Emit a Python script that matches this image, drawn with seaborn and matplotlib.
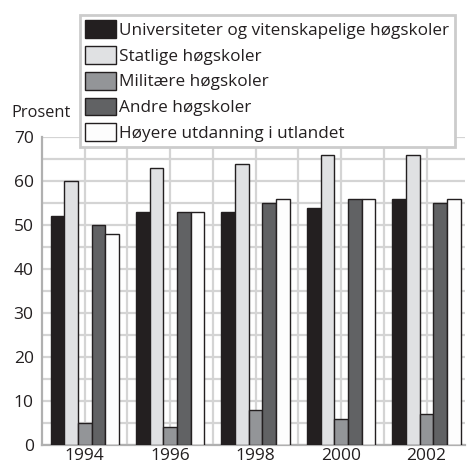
import pandas as pd
import matplotlib.pyplot as plt
import seaborn as sns
from matplotlib.patches import Patch
from matplotlib.ticker import MultipleLocator

# --- data ---
years = ['1994', '1996', '1998', '2000', '2002']
groups = ['Universiteter og vitenskapelige høgskoler', 'Statlige høgskoler',
          'Militære høgskoler', 'Andre høgskoler', 'Høyere utdanning i utlandet']
universiteter = [52, 53, 53, 54, 56]
statlige = [60, 63, 64, 66, 66]
militaere = [5, 4, 8, 6, 7]
andre = [50, 53, 55, 56, 55]
utlandet = [48, 53, 56, 56, 56]
colors = ['#231f20', '#e0e1e3', '#939598', '#616264', '#fdfdfd']

rows = []
for g, vals in zip(groups, [universiteter, statlige, militaere, andre, utlandet]):
    for y, v in zip(years, vals):
        rows.append({'År': y, 'Gruppe': g, 'Prosent': v})
df = pd.DataFrame(rows)

sns.set_style('white')
plt.rcParams['font.family'] = ['Open Sans', 'DejaVu Sans']
plt.rcParams['text.color'] = '#231f20'

fig = plt.figure(figsize=(4.68, 4.65), dpi=100)
ax = fig.add_axes([0.0897, 0.043, 0.904, 0.662])

sns.barplot(data=df, x='År', y='Prosent', hue='Gruppe', hue_order=groups,
            palette=colors, width=0.8, edgecolor='#231f20', linewidth=1,
            saturation=1, legend=False, ax=ax, zorder=3)

ax.set_ylim(0, 70)
ax.set_xlim(-0.5, 4.45)
ax.yaxis.set_major_locator(MultipleLocator(10))
ax.yaxis.set_minor_locator(MultipleLocator(5))
ax.set_xticks(range(len(years)))
ax.set_xticks([0.5, 1.5, 2.5, 3.5], minor=True)
ax.grid(which='both', color='#d4d4d4', linewidth=1.6, zorder=0)
ax.set_axisbelow(True)
ax.tick_params(which='both', length=0, labelsize=12.5, colors='#231f20', pad=2)
ax.tick_params(axis='y', pad=6)
ax.set_xlabel('')
ax.set_ylabel('')
for s in ['top', 'right']:
    ax.spines[s].set_visible(False)
for s in ['left', 'bottom']:
    ax.spines[s].set_color('#b0b0b0')
    ax.spines[s].set_linewidth(1.6)

fig.text(0.024, 0.757, 'Prosent', fontsize=11.8, va='center', ha='left')

handles = [Patch(facecolor=c, edgecolor='#231f20', linewidth=1) for c in colors]
leg = fig.legend(handles, groups, loc='upper left', bbox_to_anchor=(0.171, 0.968),
                 fontsize=12.3, frameon=True, fancybox=False, framealpha=1,
                 handlelength=1.8, handleheight=1.23, handletextpad=0.2,
                 labelspacing=0.42, borderpad=0.3, borderaxespad=0)
leg.get_frame().set_edgecolor('#cccccc')
leg.get_frame().set_linewidth(2)
leg.set_zorder(10)

fig.savefig('out.png', dpi=100)
